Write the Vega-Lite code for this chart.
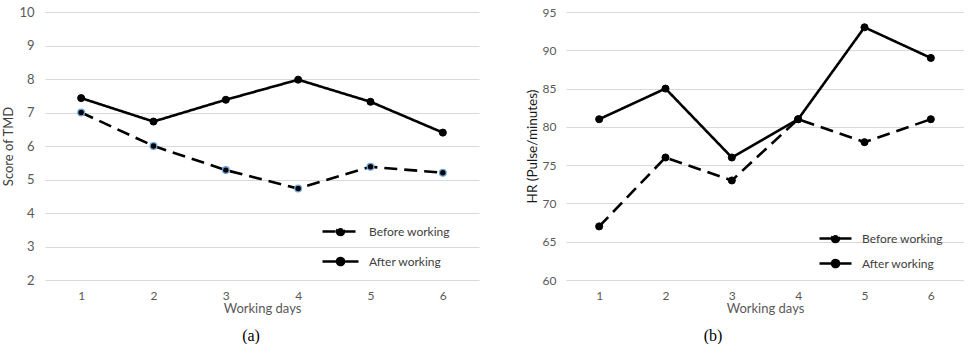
{
  "$schema": "https://vega.github.io/schema/vega-lite/v6.json",
  "background": "white",
  "padding": {"left": 2, "top": 6, "right": 0, "bottom": 0},
  "config": {
    "view": {"stroke": null},
    "font": "Lato",
    "axis": {
      "domain": false,
      "ticks": false,
      "gridColor": "#d9d9d9",
      "gridWidth": 1,
      "labelColor": "#595959",
      "labelFont": "Lato",
      "titleFont": "Lato",
      "titleFontWeight": "normal"
    }
  },
  "datasets": {
    "tmd": [
      {"day": 1, "series": "Before working", "value": 7.0},
      {"day": 2, "series": "Before working", "value": 6.0},
      {"day": 3, "series": "Before working", "value": 5.28},
      {"day": 4, "series": "Before working", "value": 4.73},
      {"day": 5, "series": "Before working", "value": 5.38},
      {"day": 6, "series": "Before working", "value": 5.2},
      {"day": 1, "series": "After working", "value": 7.43},
      {"day": 2, "series": "After working", "value": 6.73},
      {"day": 3, "series": "After working", "value": 7.38},
      {"day": 4, "series": "After working", "value": 7.98},
      {"day": 5, "series": "After working", "value": 7.32},
      {"day": 6, "series": "After working", "value": 6.4}
    ],
    "hr": [
      {"day": 1, "series": "Before working", "value": 67},
      {"day": 2, "series": "Before working", "value": 76},
      {"day": 3, "series": "Before working", "value": 73},
      {"day": 4, "series": "Before working", "value": 81},
      {"day": 5, "series": "Before working", "value": 78},
      {"day": 6, "series": "Before working", "value": 81},
      {"day": 1, "series": "After working", "value": 81},
      {"day": 2, "series": "After working", "value": 85},
      {"day": 3, "series": "After working", "value": 76},
      {"day": 4, "series": "After working", "value": 81},
      {"day": 5, "series": "After working", "value": 93},
      {"day": 6, "series": "After working", "value": 89}
    ]
  },
  "bounds": "flush",
  "spacing": 87,
  "resolve": {
    "scale": {"strokeDash": "independent", "x": "independent", "y": "independent"},
    "legend": {"strokeDash": "independent"}
  },
  "hconcat": [
    {
      "width": 434,
      "height": 268,
      "data": {"name": "tmd"},
      "title": {"text": "(a)", "orient": "bottom", "font": "Liberation Serif", "fontSize": 16, "fontWeight": "normal", "color": "black", "dx": -11, "offset": 13},
      "encoding": {
        "x": {
          "field": "day", "type": "ordinal",
          "scale": {"type": "point", "padding": 0.5},
          "axis": {"labelAngle": 0, "labelFontSize": 12, "labelPadding": 10, "title": "Working days", "titleFontSize": 13, "titleColor": "#595959", "titlePadding": 1, "grid": false}
        },
        "y": {
          "field": "value", "type": "quantitative",
          "scale": {"domain": [2, 10], "nice": false, "zero": false},
          "axis": {"values": [2, 3, 4, 5, 6, 7, 8, 9, 10], "grid": true, "labelFontSize": 13, "labelPadding": 11, "title": "Score of TMD", "titleFontSize": 13, "titleColor": "#404040", "titlePadding": 3}
        }
      },
      "layer": [
        {
          "mark": {"type": "line", "stroke": "black", "strokeWidth": 2.6},
          "encoding": {
            "strokeDash": {
              "field": "series", "type": "nominal",
              "scale": {"domain": ["Before working", "After working"], "range": [[13, 7], [1, 0]]},
              "legend": {
                "title": null, "orient": "none", "legendX": 284, "legendY": 208, "direction": "vertical",
                "symbolType": "M -1.8 0 L 1.8 0 M 0.35 0 A 0.35 0.35 0 1 1 -0.35 0 A 0.35 0.35 0 1 1 0.35 0 Z",
                "symbolSize": 400, "symbolStrokeWidth": 2.6, "symbolStrokeColor": "black", "symbolFillColor": "black",
                "labelFontSize": 12, "labelColor": "#404040", "labelOffset": 17, "rowPadding": 9, "padding": 0,
                "encode": {"symbols": {"update": {"fill": {"value": "black"}, "stroke": {"value": "black"}}}}
              }
            }
          }
        },
        {
          "transform": [{"filter": "datum.series === 'Before working'"}],
          "mark": {"type": "circle", "fill": "black", "fillOpacity": 1, "opacity": 1, "size": 45, "stroke": "#6fa8dc", "strokeWidth": 1.3}
        },
        {
          "transform": [{"filter": "datum.series === 'After working'"}],
          "mark": {"type": "circle", "fill": "black", "fillOpacity": 1, "opacity": 1, "size": 50, "stroke": "black", "strokeWidth": 1}
        }
      ]
    },
    {
      "width": 398,
      "height": 268,
      "data": {"name": "hr"},
      "title": {"text": "(b)", "orient": "bottom", "font": "Liberation Serif", "fontSize": 16, "fontWeight": "normal", "color": "black", "dx": -52, "offset": 13},
      "encoding": {
        "x": {
          "field": "day", "type": "ordinal",
          "scale": {"type": "point", "padding": 0.5},
          "axis": {"labelAngle": 0, "labelFontSize": 12, "labelPadding": 10, "title": "Working days", "titleFontSize": 13, "titleColor": "#595959", "titlePadding": 1, "grid": false}
        },
        "y": {
          "field": "value", "type": "quantitative",
          "scale": {"domain": [60, 95], "nice": false, "zero": false},
          "axis": {"values": [60, 65, 70, 75, 80, 85, 90, 95], "grid": true, "labelFontSize": 12, "labelPadding": 10, "title": "HR (Pulse/minutes)", "titleFontSize": 13.5, "titleColor": "#1a1a1a", "titlePadding": 3}
        }
      },
      "layer": [
        {
          "mark": {"type": "line", "stroke": "black", "strokeWidth": 2.6},
          "encoding": {
            "strokeDash": {
              "field": "series", "type": "nominal",
              "scale": {"domain": ["Before working", "After working"], "range": [[13, 7], [1, 0]]},
              "legend": {
                "title": null, "orient": "none", "legendX": 258, "legendY": 215, "direction": "vertical",
                "symbolType": "M -1.6 0 L 1.6 0 M 0.35 0 A 0.35 0.35 0 1 1 -0.35 0 A 0.35 0.35 0 1 1 0.35 0 Z",
                "symbolSize": 400, "symbolStrokeWidth": 2.6, "symbolStrokeColor": "black", "symbolFillColor": "black",
                "labelFontSize": 12, "labelColor": "#404040", "labelOffset": 15, "rowPadding": 4, "padding": 0,
                "encode": {"symbols": {"update": {"fill": {"value": "black"}, "stroke": {"value": "black"}}}}
              }
            }
          }
        },
        {
          "mark": {"type": "circle", "fill": "black", "fillOpacity": 1, "opacity": 1, "size": 50, "stroke": "black", "strokeWidth": 1}
        }
      ]
    }
  ]
}
